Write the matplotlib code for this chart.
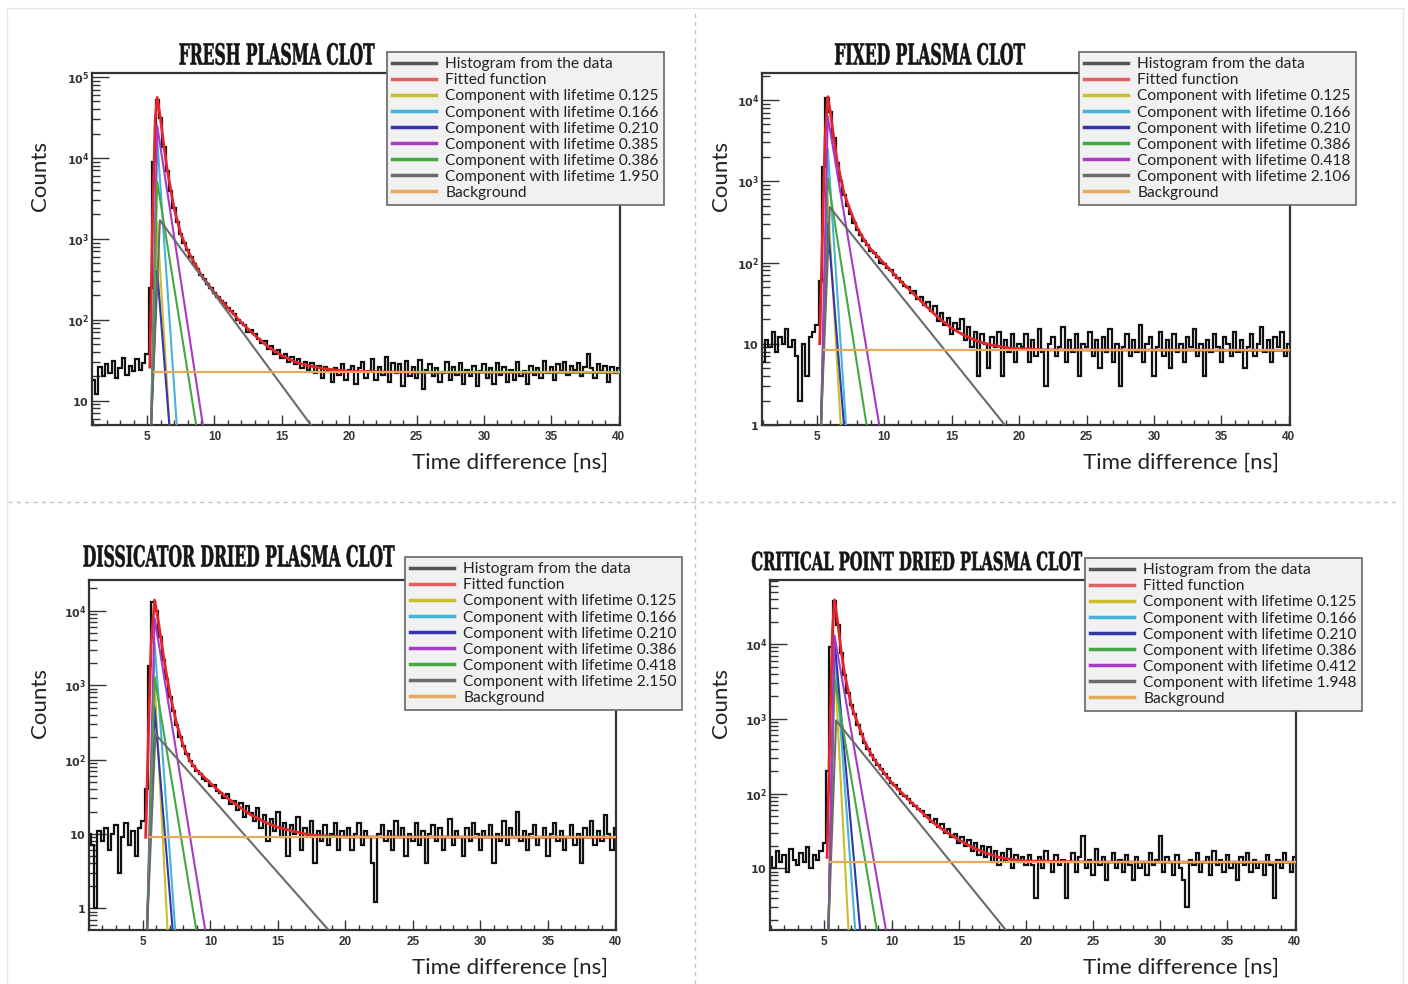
import numpy as np
import matplotlib
matplotlib.use("Agg")
import matplotlib.pyplot as plt
from matplotlib.lines import Line2D
from matplotlib.textpath import TextPath
from matplotlib.patches import PathPatch
from matplotlib.font_manager import FontProperties
from matplotlib.transforms import Affine2D
from matplotlib.ticker import LogLocator, MultipleLocator, FuncFormatter, NullFormatter

W, H, DPI = 1408, 984, 100

# histogram bins: 0.25 ns wide, centres 1.0 .. 40.0
BIN_START = 0.875
BIN_W = 0.25

# ---------------- FRESH PLASMA CLOT ----------------
fresh_counts = [
    18, 12, 26, 20, 28, 22, 31, 19, 25, 34, 21, 27, 23, 33, 24, 29, 38,
    250, 9000, 52000, 31000, 13500, 6800, 3900, 2400, 1600, 1150,
    900, 720, 590, 490, 420, 360, 320, 275, 245, 212,
    190, 168, 160, 140, 128, 118, 100, 92, 86, 70,
    74, 66, 58, 52, 55, 44, 48, 38, 42, 34,
    38, 30, 35, 28, 33, 25, 30, 24, 29, 22,
    27, 19, 26, 23, 17, 25, 21, 28, 18, 24,
    27, 16, 25, 30, 19, 23, 33, 18, 26, 21,
    35, 17, 29, 22, 28, 15, 31, 20, 26, 19,
    32, 14, 24, 28, 20, 25, 17, 22, 30, 18,
    26, 21, 29, 16, 24, 20, 27, 15, 23, 28,
    19, 25, 16, 29, 21, 26, 17, 24, 18, 30,
    20, 23, 16, 27, 21, 25, 19, 31, 22, 26,
    18, 28, 23, 30, 21, 27, 24, 29, 20, 26,
    38, 25, 19, 28, 23, 27, 17, 26, 22, 25,
]
fresh_fit_x = [5.2, 5.4, 5.6, 5.75, 6.0, 6.25, 6.5, 7.0, 7.5, 8.0, 9.0, 10, 11, 12,
               13, 14, 15, 16, 17, 18, 20, 25, 40]
fresh_fit_y = [26, 1500, 30000, 56000, 30000, 14000, 7000, 2400, 1150, 720, 360, 215,
               140, 92, 64, 46, 36, 30, 27, 25, 23, 22.4, 22.3]
fresh_lifetimes = ["0.125", "0.166", "0.210", "0.385", "0.386", "1.950"]
fresh_peak_x = [5.75, 5.75, 5.75, 5.75, 5.75, 5.95]
fresh_peak_y = [1600, 17000, 400, 25000, 5100, 1700]
fresh_end_x = [6.66, 7.2, 6.65, 9.14, 8.64, 17.16]
fresh_bg = 22.3
fresh_bg_start = 5.52

# ---------------- FIXED PLASMA CLOT ----------------
fixed_counts = [
    6, 11, 9, 14, 8, 12, 10, 15, 9, 11, 7, 2, 10, 4, 12, 14, 17,
    60, 1500, 10500, 7200, 3400, 1700, 1000, 680, 500, 390,
    310, 250, 220, 185, 165, 140, 130, 118, 100, 96,
    85, 80, 70, 64, 58, 52, 50, 42, 44, 36,
    38, 30, 33, 25, 29, 19, 24, 17, 21, 13,
    18, 15, 20, 11, 16, 9, 14, 4, 13, 10,
    5, 12, 9, 14, 4, 11, 8, 13, 6, 10,
    9, 13, 6, 11, 7, 15, 8, 3, 10, 12,
    7, 9, 16, 6, 11, 8, 13, 4, 10, 9,
    14, 7, 11, 5, 12, 8, 15, 6, 10, 3,
    9, 13, 7, 11, 8, 17, 6, 10, 12, 4,
    9, 14, 7, 11, 5, 13, 8, 10, 6, 12,
    9, 15, 7, 10, 4, 11, 8, 13, 9, 6,
    12, 10, 7, 14, 8, 11, 5, 9, 13, 7,
    10, 16, 8, 11, 6, 12, 9, 14, 7, 10,
]
fixed_fit_x = [5.2, 5.4, 5.6, 5.8, 6.0, 6.25, 6.5, 7.0, 7.5, 8.0, 8.5, 9, 10, 11, 12,
               13, 14, 15, 16, 17, 18, 19, 20, 22, 40]
fixed_fit_y = [10, 200, 3500, 11000, 7000, 3400, 1750, 720, 420, 265, 190, 145, 97, 64,
               44, 30, 21, 15.5, 12.5, 10.6, 9.6, 9.0, 8.7, 8.4, 8.3]
fixed_lifetimes = ["0.125", "0.166", "0.210", "0.386", "0.418", "2.106"]
fixed_peak_x = [5.8, 5.8, 5.8, 5.8, 5.8, 5.95]
fixed_peak_y = [590, 2500, 300, 1100, 6300, 480]
fixed_end_x = [6.76, 7.15, 7.0, 8.68, 9.62, 18.94]
fixed_bg = 8.3
fixed_bg_start = 5.52

# ---------------- DISSICATOR DRIED PLASMA CLOT ----------------
dissic_counts = [
    10, 7, 1, 11, 8, 12, 6, 10, 13, 3, 9, 14, 7, 11, 5, 12, 15,
    40, 1800, 13000, 10000, 4500, 2200, 1200, 700, 450, 290,
    200, 150, 120, 95, 82, 70, 64, 55, 52, 44,
    46, 38, 36, 30, 34, 25, 28, 21, 26, 17,
    24, 19, 15, 22, 12, 18, 8, 16, 11, 20,
    9, 14, 5, 13, 10, 17, 6, 12, 9, 15,
    4, 11, 8, 13, 7, 10, 14, 6, 11, 9,
    12, 6, 10, 14, 7, 11, 9, 4, 1.2, 10,
    13, 8, 11, 6, 15, 9, 12, 5, 10, 8,
    14, 7, 11, 4, 10, 13, 8, 12, 6, 9,
    16, 7, 11, 9, 5, 12, 8, 14, 10, 6,
    11, 9, 13, 4, 10, 8, 15, 7, 12, 9,
    20, 8, 11, 6, 10, 13, 7, 9, 12, 5,
    10, 14, 8, 11, 6, 9, 13, 7, 10, 4,
    12, 9, 15, 7, 11, 8, 18, 10, 6, 12,
]
dissic_fit_x = [5.2, 5.4, 5.6, 5.86, 6.1, 6.35, 6.6, 7.0, 7.5, 8.0, 8.5, 9.0, 10, 11,
                12, 13, 14, 15, 16, 17, 18, 20, 40]
dissic_fit_y = [9, 200, 3500, 14000, 8000, 4000, 2000, 750, 300, 150, 95, 72, 48, 33,
                24, 18, 14.5, 12.3, 11, 10, 9.5, 9.1, 9.0]
dissic_lifetimes = ["0.125", "0.166", "0.210", "0.386", "0.418", "2.150"]
dissic_peak_x = [5.86, 5.86, 5.86, 5.86, 5.86, 5.92]
dissic_peak_y = [1100, 3700, 500, 8000, 1300, 220]
dissic_end_x = [6.82, 7.39, 7.2, 9.61, 8.95, 18.75]
dissic_bg = 9.0
dissic_bg_start = 5.49

# ---------------- CRITICAL POINT DRIED PLASMA CLOT ----------------
critical_counts = [
    14, 10, 17, 12, 15, 9, 18, 13, 11, 16, 12, 19, 10, 15, 13, 17, 22,
    200, 9000, 38000, 18000, 7500, 3800, 2200, 1550, 1150, 820,
    620, 480, 400, 330, 285, 240, 210, 180, 160, 140,
    128, 115, 100, 92, 84, 74, 68, 62, 58, 50,
    52, 42, 45, 36, 39, 30, 33, 26, 29, 22,
    26, 20, 24, 17, 22, 15, 20, 14, 19, 12,
    17, 11, 16, 13, 18, 10, 15, 12, 14, 11,
    15, 11, 4, 14, 10, 17, 12, 9, 15, 11,
    13, 4, 12, 16, 9, 14, 27, 10, 13, 8,
    18, 11, 14, 7, 12, 16, 10, 13, 9, 15,
    11, 7, 14, 10, 12, 8, 16, 11, 13, 27,
    9, 14, 12, 8, 15, 10, 7, 3, 13, 11,
    16, 9, 12, 14, 8, 17, 11, 13, 9, 15,
    10, 12, 7, 14, 11, 16, 9, 13, 10, 12,
    8, 15, 11, 4, 13, 10, 16, 12, 9, 14,
]
critical_fit_x = [5.2, 5.4, 5.6, 5.75, 6.0, 6.25, 6.5, 7.0, 7.5, 8.0, 8.5, 9.0, 10, 11,
                  12, 13, 14, 15, 16, 17, 18, 19, 20, 25, 40]
critical_fit_y = [14, 600, 15000, 39000, 19000, 8000, 4000, 1500, 850, 490, 330, 240,
                  140, 92, 62, 42, 31, 24, 19, 16, 14, 13, 12.5, 12.1, 12.0]
critical_lifetimes = ["0.125", "0.166", "0.210", "0.386", "0.412", "1.948"]
critical_peak_x = [5.75, 5.75, 5.75, 5.75, 5.75, 5.87]
critical_peak_y = [6000, 10000, 11500, 3500, 13000, 950]
critical_end_x = [6.79, 7.29, 7.66, 8.9, 9.58, 18.5]
critical_bg = 12.0
critical_bg_start = 5.37

# colours
HIST = "#111111"
FIT = "#e2262b"
YELLOW = "#c9bf2c"
CYAN = "#46b4d6"
BLUE = "#3535aa"
MAGENTA = "#a63cc4"
GREEN = "#45a845"
GREY = "#6b6b6b"
BGC = "#e2aa5a"

panels = [
    dict(title="FRESH PLASMA CLOT", counts=fresh_counts, fx=fresh_fit_x, fy=fresh_fit_y,
         life=fresh_lifetimes, px=fresh_peak_x, py=fresh_peak_y, ex=fresh_end_x,
         colors=[YELLOW, CYAN, BLUE, MAGENTA, GREEN, GREY], bg=fresh_bg, bgx=fresh_bg_start,
         box=(92, 73, 620, 425), xlim=(0.91, 40.1), ylim=(5.0, 1.12e5),
         tpos=(277, 54, 195, 22), leg=(387, 52), lab=(40, 176, 510, 463)),
    dict(title="FIXED PLASMA CLOT", counts=fixed_counts, fx=fixed_fit_x, fy=fixed_fit_y,
         life=fixed_lifetimes, px=fixed_peak_x, py=fixed_peak_y, ex=fixed_end_x,
         colors=[YELLOW, CYAN, BLUE, GREEN, MAGENTA, GREY], bg=fixed_bg, bgx=fixed_bg_start,
         box=(762, 73, 1290, 425), xlim=(0.92, 40.1), ylim=(1.0, 2.15e4),
         tpos=(930, 54, 190, 22), leg=(1079, 52), lab=(721, 176, 1181, 463)),
    dict(title="DISSICATOR DRIED PLASMA CLOT", counts=dissic_counts, fx=dissic_fit_x,
         fy=dissic_fit_y, life=dissic_lifetimes, px=dissic_peak_x, py=dissic_peak_y,
         ex=dissic_end_x, colors=[YELLOW, CYAN, BLUE, MAGENTA, GREEN, GREY], bg=dissic_bg,
         bgx=dissic_bg_start, box=(89, 580, 616, 930), xlim=(1.0, 40.05), ylim=(0.51, 2.6e4),
         tpos=(239, 556, 311, 22), leg=(405, 557), lab=(40, 703, 510, 968)),
    dict(title="CRITICAL POINT DRIED PLASMA CLOT", counts=critical_counts, fx=critical_fit_x,
         fy=critical_fit_y, life=critical_lifetimes, px=critical_peak_x, py=critical_peak_y,
         ex=critical_end_x, colors=[YELLOW, CYAN, BLUE, GREEN, MAGENTA, GREY], bg=critical_bg,
         bgx=critical_bg_start, box=(770, 580, 1296, 930), xlim=(0.95, 40.1), ylim=(1.49, 7.2e4),
         tpos=(917, 561, 330, 19), leg=(1085, 558), lab=(721, 703, 1181, 968)),
]

fig = plt.figure(figsize=(W / DPI, H / DPI), dpi=DPI)
fig.patch.set_facecolor("white")


def ylab(v, pos):
    e = int(round(np.log10(v)))
    if e == 0:
        return r"$\mathbf{1}$"
    if e == 1:
        return r"$\mathbf{10}$"
    return r"$\mathbf{10^{%d}}$" % e


def condensed_title(text, cx, cy, w, h):
    # heavy condensed title: squeeze a bold serif outline to the measured box
    fp = FontProperties(family="DejaVu Serif", weight="bold")
    tp = TextPath((0, 0), text, size=100, prop=fp)
    bb = tp.get_extents()
    tr = (Affine2D().translate(-(bb.x0 + bb.x1) / 2, -(bb.y0 + bb.y1) / 2)
          .scale(w / bb.width / DPI, h / bb.height / DPI)
          .translate(cx / DPI, (H - cy) / DPI))
    fig.add_artist(PathPatch(tp, transform=tr + fig.dpi_scale_trans,
                             fc="#151515", ec="#151515", lw=0.4))


for p in panels:
    l, t, r, b = p["box"]
    ax = fig.add_axes([l / W, 1 - b / H, (r - l) / W, (b - t) / H])
    ax.set_yscale("log")
    ax.set_xlim(*p["xlim"])
    ax.set_ylim(*p["ylim"])
    ymin = p["ylim"][0]

    counts = p["counts"]
    edges = BIN_START + BIN_W * np.arange(len(counts) + 1)
    ax.stairs(counts, edges, baseline=None, color=HIST, lw=1.6, zorder=2)

    ax.plot(p["fx"], p["fy"], color=FIT, lw=2.0, zorder=3)

    for i, c in enumerate(p["colors"]):
        ax.plot([5.3, p["px"][i], p["ex"][i]], [ymin, p["py"][i], ymin],
                color=c, lw=1.5, zorder=4)

    ax.plot([p["bgx"], 40.1], [p["bg"], p["bg"]], color=BGC, lw=1.6, zorder=5)

    # axes styling (ROOT look)
    for s in ax.spines.values():
        s.set_color("#333333")
        s.set_linewidth(1.6)
    ax.xaxis.set_major_locator(MultipleLocator(5))
    ax.xaxis.set_minor_locator(MultipleLocator(1))
    ax.yaxis.set_major_locator(LogLocator(base=10, numticks=20))
    ax.yaxis.set_minor_locator(LogLocator(base=10, subs=np.arange(2, 10), numticks=100))
    ax.yaxis.set_major_formatter(FuncFormatter(ylab))
    ax.yaxis.set_minor_formatter(NullFormatter())
    ax.xaxis.set_major_formatter(FuncFormatter(lambda v, pos: "%d" % v))
    ax.tick_params(which="both", direction="in", top=False, right=False,
                   color="#333333", width=1.0)
    ax.tick_params(axis="y", which="major", length=12, pad=2, labelsize=8, labelcolor="#333333")
    ax.tick_params(axis="y", which="minor", length=6)
    ax.tick_params(axis="x", which="major", length=7, pad=4, labelsize=8.5, labelcolor="#333333")
    ax.tick_params(axis="x", which="minor", length=3.5)
    for lbl in ax.get_xticklabels():
        lbl.set_fontweight("bold")
        lbl.set_family("Liberation Sans")

    # legend
    handles = [Line2D([], [], color="#555555", lw=2.5), Line2D([], [], color="#e06262", lw=2.5)]
    handles += [Line2D([], [], color=c, lw=2.5) for c in p["colors"]]
    handles += [Line2D([], [], color=BGC, lw=2.5)]
    labels = ["Histogram from the data", "Fitted function"]
    labels += ["Component with lifetime " + v for v in p["life"]]
    labels += ["Background"]
    lx, ly = p["leg"]
    leg = ax.legend(handles, labels, loc="upper left",
                    bbox_to_anchor=(lx / W, 1 - ly / H), bbox_transform=fig.transFigure,
                    borderaxespad=0, frameon=True, fancybox=False, framealpha=1,
                    facecolor="#f1f1f1", edgecolor="#666666",
                    prop=FontProperties(family="Lato", size=11.2),
                    labelspacing=0.13, handlelength=2.8, handletextpad=0.6,
                    borderpad=0.35)
    leg.get_frame().set_linewidth(1.2)
    leg.set_zorder(10)
    for txt in leg.get_texts():
        txt.set_color("#222222")

    tx, ty, tw, th = p["tpos"]
    condensed_title(p["title"], tx, ty, tw, th)

    cx, cy, xx, xy = p["lab"]
    fig.text(cx / W, 1 - cy / H, "Counts", rotation=90, ha="center", va="center",
             family="Lato", fontsize=16, color="#222222")
    fig.text(xx / W, 1 - xy / H, "Time difference [ns]", ha="center", va="center",
             family="Lato", fontsize=16, color="#222222")

# separators and outer frame
fig.add_artist(Line2D([695 / W, 695 / W], [0, 1 - 10 / H], transform=fig.transFigure,
                      ls=(0, (3, 3)), color="#c4c4c4", lw=1))
fig.add_artist(Line2D([8 / W, 1400 / W], [1 - 502 / H, 1 - 502 / H], transform=fig.transFigure,
                      ls=(0, (3, 3)), color="#c4c4c4", lw=1))
fig.add_artist(Line2D([7 / W, 7 / W, 1403 / W, 1403 / W], [0, 1 - 8 / H, 1 - 8 / H, 0],
                      transform=fig.transFigure, color="#e6e6e6", lw=1))

fig.savefig("out.png", dpi=DPI)
